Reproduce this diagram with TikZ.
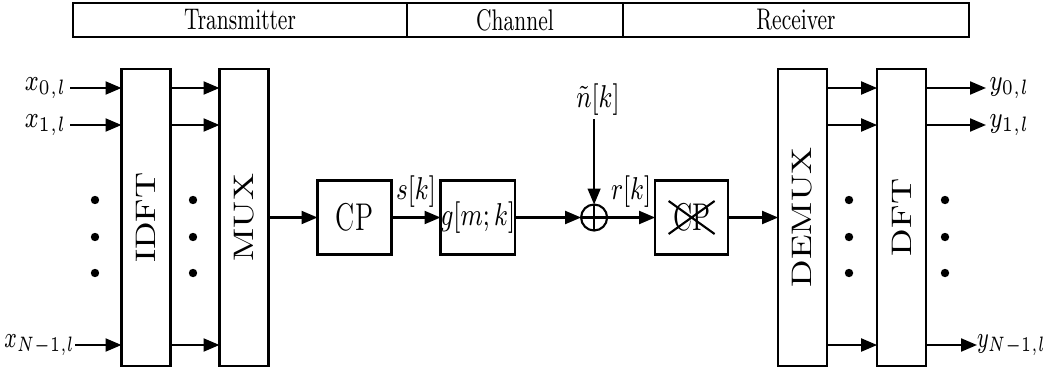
\RequirePackage{fix-cm}
\documentclass[tikz,border=0pt]{standalone}
\usepackage{graphicx}
\usetikzlibrary{positioning,arrows.meta}
\newcommand{\sq}[1]{\scalebox{0.78}[1]{#1}}
\newcommand{\hsq}[1]{\scalebox{0.7}[1]{#1}}
\newcommand{\vsq}[1]{\rotatebox{90}{\scalebox{1}[0.78]{#1}}}

\begin{document}
\begin{tikzpicture}[node distance=0.49cm, line width=0.6pt, every node/.style={inner sep=1pt, outer sep=0pt}]
    \tikzstyle{head}=[draw, minimum height=0.34cm, font=\fontsize{8.5}{10}\selectfont]
    \tikzstyle{tall}=[draw, minimum width=0.49cm, minimum height=2.97cm, inner sep=0pt, font=\fontsize{10.3}{12}\selectfont]
    \tikzstyle{blk}=[draw, minimum width=0.74cm, minimum height=0.74cm, inner sep=0pt, font=\fontsize{11}{13}\selectfont]
    \tikzstyle{sig}=[-{Triangle[length=1.6mm, width=1.3mm]}]
    \tikzstyle{mlbl}=[font=\fontsize{9}{10}\selectfont]
    \tikzstyle{io}=[font=\fontsize{8.5}{10}\selectfont]

    \useasboundingbox (0,0) rectangle (10.54,3.69);

    % header bar
    \node[head, minimum width=3.34cm] (tx) at (2.40,3.49) {\hsq{Transmitter}};
    \node[head, minimum width=2.16cm, right=0pt of tx] (ch) {\hsq{Channel}};
    \node[head, minimum width=3.46cm, right=0pt of ch] (rx) {\hsq{Receiver}};

    % blocks
    \node[tall] (idft) at (1.46,1.515) {\vsq{IDFT}};
    \node[tall, right=of idft] (mux) {\vsq{MUX}};
    \node[blk, right=of mux] (cp) {\hsq{CP}};
    \node[blk, minimum width=0.72cm, font=\fontsize{9}{10}\selectfont, right=of cp] (chan) {\sq{$g[m;k]$}};
    \node[circle, draw, minimum size=0.26cm, inner sep=0pt, right=0.66cm of chan] (add) {};
    \node[blk, minimum width=0.73cm, right=0.48cm of add] (rcp) {\hsq{CP}};
    \node[tall, right=0.5cm of rcp] (demux) {\vsq{DEMUX}};
    \node[tall, right=0.5cm of demux] (dft) {\vsq{DFT}};

    % adder and removed CP
    \draw (add.north) -- (add.south) (add.west) -- (add.east);
    \draw (rcp.center) ++(-0.23,0.165) -- ++(0.46,-0.33) ++(0,0.33) -- ++(-0.46,-0.33);

    % inputs and outputs
    \foreach \i/\y in {0/2.81, 1/2.44} {
        \node[io, anchor=east] (x\i) at (0.70,\y) {\sq{$x_{\i,l}$}};
        \draw[sig] (x\i) -- (x\i -| idft.west);
        \draw[sig] (x\i -| idft.east) -- (x\i -| mux.west);
        \node[io, anchor=west] (y\i) at (9.86,\y) {\sq{$y_{\i,l}$}};
        \draw[sig] (y\i -| demux.east) -- (y\i -| dft.west);
        \draw[sig] (y\i -| dft.east) -- (y\i);
    }
    \node[io, anchor=east, inner xsep=0pt] (xn) at (0.75,0.24) {\hsq{$x_{N-1,l}$}};
    \draw[sig] (xn) -- (xn -| idft.west);
    \draw[sig] (xn -| idft.east) -- (xn -| mux.west);
    \node[io, anchor=west, inner xsep=0pt] (yn) at (9.77,0.24) {\hsq{$y_{N-1,l}$}};
    \draw[sig] (yn -| demux.east) -- (yn -| dft.west);
    \draw[sig] (yn -| dft.east) -- (yn);

    % dots
    \foreach \x in {0.95, 1.93, 8.49, 9.45}
        \foreach \y in {1.69, 1.32, 0.96}
            \fill (\x,\y) circle (0.042);

    % signal path
    \draw[sig] (mux) -- (cp);
    \draw[sig] (cp) -- node[mlbl, above=2pt] (sk) {\sq{$s[k]$}} (chan);
    \draw[sig] (chan) -- (add);
    \draw[sig] (add) -- node[mlbl, above=2pt] (rk) {\sq{$r[k]$}} (rcp);
    \draw[sig] (rcp) -- (demux);

    % noise
    \node[mlbl] (noise) at (5.98,2.69) {\sq{$\tilde{n}[k]$}};
    \draw[sig, line width=0.4pt] (noise.south -| add.north) -- (add.north);

  \end{tikzpicture}
\end{document}
